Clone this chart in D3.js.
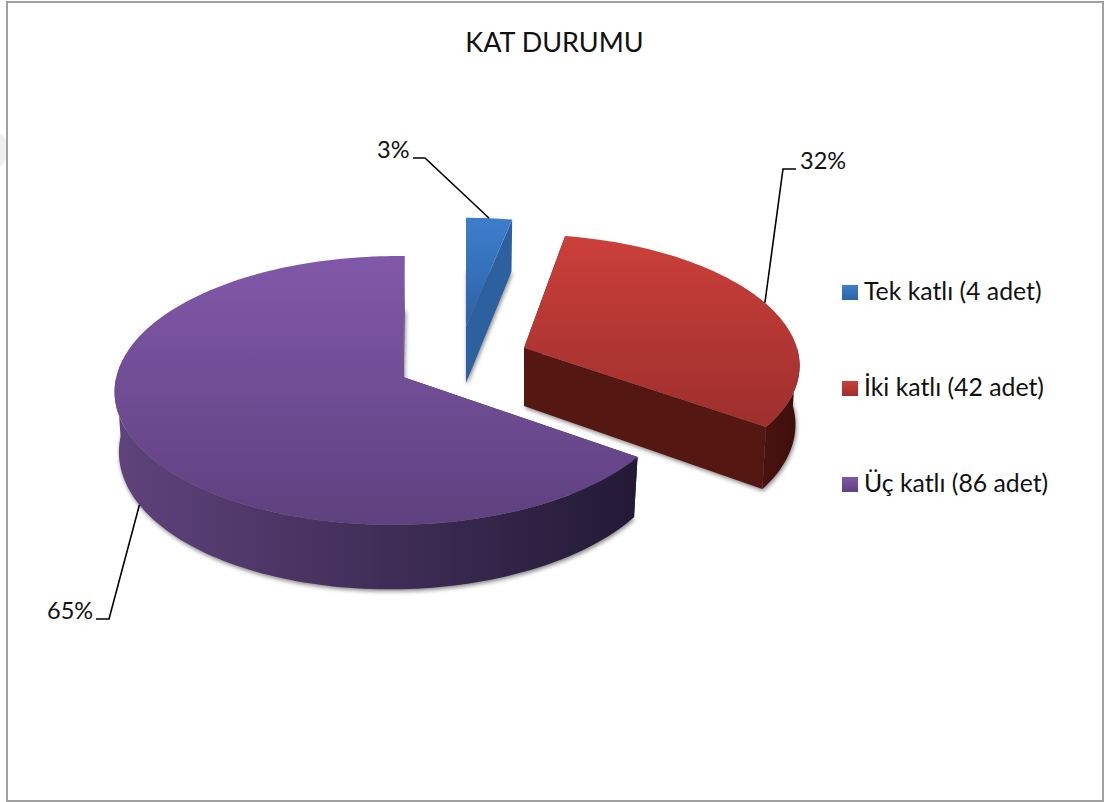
<!DOCTYPE html>
<meta charset="utf-8">
<style>
html, body { margin: 0; padding: 0; background: #fff; }
text { font-family: Lato, "Open Sans", sans-serif; fill: #111; }
</style>
<body>
<script src="https://d3js.org/d3.v7.min.js"></script>
<script>
// chart data
var categories = ["Tek katlı (4 adet)", "İki katlı (42 adet)", "Üç katlı (86 adet)"];
var counts = [4, 42, 86];
var percentLabels = ["3%", "32%", "65%"];
var chartTitle = "KAT DURUMU";

// colours: top of the face, bottom of the face, cut wall, outer wall left, outer wall right
var faceTop = d3.scaleOrdinal().domain(categories).range(["#3d7ecd", "#cc3f3a", "#8158a9"]);
var faceBottom = d3.scaleOrdinal().domain(categories).range(["#2d62a4", "#9d2f2d", "#5e417f"]);
var wallCut = d3.scaleOrdinal().domain(categories).range(["#2c609f", "#551712", "#2a1d41"]);
var wallLeft = d3.scaleOrdinal().domain(categories).range(["#2c609f", "#4b130f", "#5f437c"]);
var wallRight = d3.scaleOrdinal().domain(categories).range(["#2c609f", "#3c0e0b", "#231935"]);

// each slice is pulled out of the pie on its own, so each gets its own view
// cx,cy = tip of the slice on screen, rx,ry = radii, k,m = perspective,
// sh = shear, depth = height of the wall
var views = [
  {cx: 466, cy: 326, rx: 268, ry: 119, k: 0.1, m: 0, sh: 0, depth: 57},
  {cx: 524, cy: 348, rx: 273, ry: 127, k: 0.115, m: 0, sh: 6, depth: 58},
  {cx: 403, cy: 377, rx: 279, ry: 133, k: 0.1, m: 0.027, sh: -2, depth: 58}
];
var taper = 0.985; // the bottom rim sits a little further away

var width = 1108, height = 802;

var svg = d3.select("body").append("svg")
    .attr("width", width)
    .attr("height", height)
    .style("display", "block");

// pale smudge outside the frame, it is in the original screenshot
svg.append("ellipse")
    .attr("cx", 0).attr("cy", 150)
    .attr("rx", 7).attr("ry", 16)
    .attr("fill", "#efefef");

// chart frame
svg.append("rect")
    .attr("x", 7).attr("y", 2)
    .attr("width", 1096).attr("height", 799)
    .attr("fill", "#fff")
    .attr("stroke", "#a0a0a0")
    .attr("stroke-width", 2);

var defs = svg.append("defs");

var blur = defs.append("filter").attr("id", "soft")
    .attr("x", "-10%").attr("y", "-10%").attr("width", "120%").attr("height", "120%");
blur.append("feGaussianBlur").attr("stdDeviation", 2);

categories.forEach(function(c, i) {
  var g = defs.append("linearGradient").attr("id", "face" + i)
      .attr("x1", 0).attr("y1", 0).attr("x2", 0).attr("y2", 1);
  g.append("stop").attr("offset", "0%").attr("stop-color", faceTop(c));
  g.append("stop").attr("offset", "100%").attr("stop-color", faceBottom(c));

  var w = defs.append("linearGradient").attr("id", "wall" + i)
      .attr("x1", 0).attr("y1", 0).attr("x2", 1).attr("y2", 0);
  w.append("stop").attr("offset", "0%").attr("stop-color", wallLeft(c));
  w.append("stop").attr("offset", "100%").attr("stop-color", wallRight(c));
});

// clockwise from 12 o'clock, same as the original
var pie = d3.pie().sort(null).value(function(d) { return d; });
var arcs = pie(counts);

var line = d3.line();

function project(view, angle, r, lifted) {
  var u = Math.sin(angle) * r, v = -Math.cos(angle) * r;
  var s = 1 / (1 - view.k * v + view.m * u);
  var x = (view.rx * u + view.sh * v) * s;
  return [view.cx + (lifted ? x * taper : x),
          view.cy + view.ry * v * s + (lifted ? view.depth * s : 0)];
}

function rim(view, a0, a1, lifted) {
  var n = Math.max(2, Math.ceil((a1 - a0) * 40));
  return d3.range(n + 1).map(function(i) {
    return project(view, a0 + (a1 - a0) * i / n, 1, lifted);
  });
}

// the rim only shows as a wall where it faces the viewer
function wallSpans(a0, a1) {
  var lo = Math.max(a0, Math.PI / 2), hi = Math.min(a1, Math.PI * 1.5);
  return lo < hi ? [lo, hi] : null;
}

// soft shadow of the base of each slice
var shadows = svg.append("g");

// draw back to front: purple, blue, red
[2, 0, 1].forEach(function(i) {
  var d = arcs[i], view = views[i], c = categories[i];
  var g = svg.append("g");
  var tip = project(view, 0, 0, false), tipLow = project(view, 0, 0, true);
  var startTop = project(view, d.startAngle, 1, false), startLow = project(view, d.startAngle, 1, true);
  var endTop = project(view, d.endAngle, 1, false), endLow = project(view, d.endAngle, 1, true);

  shadows.append("path")
      .attr("d", line([tipLow].concat(rim(view, d.startAngle, d.endAngle, true))) + "Z")
      .attr("transform", "translate(1,2)")
      .attr("fill", "#444")
      .attr("opacity", 0.65)
      .attr("filter", "url(#soft)");

  // cut walls
  g.append("path")
      .attr("d", line([tip, startTop, startLow, tipLow]) + "Z")
      .attr("fill", wallCut(c));
  g.append("path")
      .attr("d", line([tip, endTop, endLow, tipLow]) + "Z")
      .attr("fill", i == 2 ? "#5c3f7d" : wallCut(c));

  // outer wall
  var span = wallSpans(d.startAngle, d.endAngle);
  if (span) {
    g.append("path")
        .attr("d", line(rim(view, span[0], span[1], false)
            .concat(rim(view, span[0], span[1], true).reverse())) + "Z")
        .attr("fill", "url(#wall" + i + ")");
  }

  // top face
  g.append("path")
      .attr("d", line([tip].concat(rim(view, d.startAngle, d.endAngle, false))) + "Z")
      .attr("fill", "url(#face" + i + ")");

  // leader line, starts at the middle of the slice rim
  var mid = (d.startAngle + d.endAngle) / 2;
  var anchor = project(view, mid, 1, mid > Math.PI);
  var leaderEnds = [[[425, 158], [413, 158]], [[783, 169], [796, 169]], [[109, 619], [96, 619]]];
  svg.append("path")
      .attr("class", "leader")
      .attr("d", line([anchor].concat(leaderEnds[i])))
      .attr("fill", "none")
      .attr("stroke", "#000")
      .attr("stroke-width", 1.6);
});

// title
svg.append("text")
    .attr("x", 554.5).attr("y", 52)
    .attr("text-anchor", "middle")
    .style("font-size", "27px")
    .text(chartTitle);

// percent labels
var labelPos = [[377, 158], [800, 169], [47, 619]];
svg.selectAll("text.pct")
    .data(percentLabels)
  .enter().append("text")
    .attr("class", "pct")
    .attr("x", function(d, i) { return labelPos[i][0]; })
    .attr("y", function(d, i) { return labelPos[i][1]; })
    .style("font-size", "23.5px")
    .text(function(d) { return d; });

// legend
var legendY = d3.scalePoint().domain(categories).range([292, 484]);
var legend = svg.selectAll("g.legend")
    .data(categories)
  .enter().append("g")
    .attr("class", "legend")
    .attr("transform", function(d) { return "translate(842," + legendY(d) + ")"; });

legend.append("rect")
    .attr("x", 0).attr("y", -7)
    .attr("width", 16).attr("height", 15)
    .attr("fill", function(d, i) { return "url(#face" + i + ")"; });

legend.append("text")
    .attr("x", 22).attr("y", 8)
    .style("font-size", "24.8px")
    .text(function(d) { return d; });
</script>
</body>
